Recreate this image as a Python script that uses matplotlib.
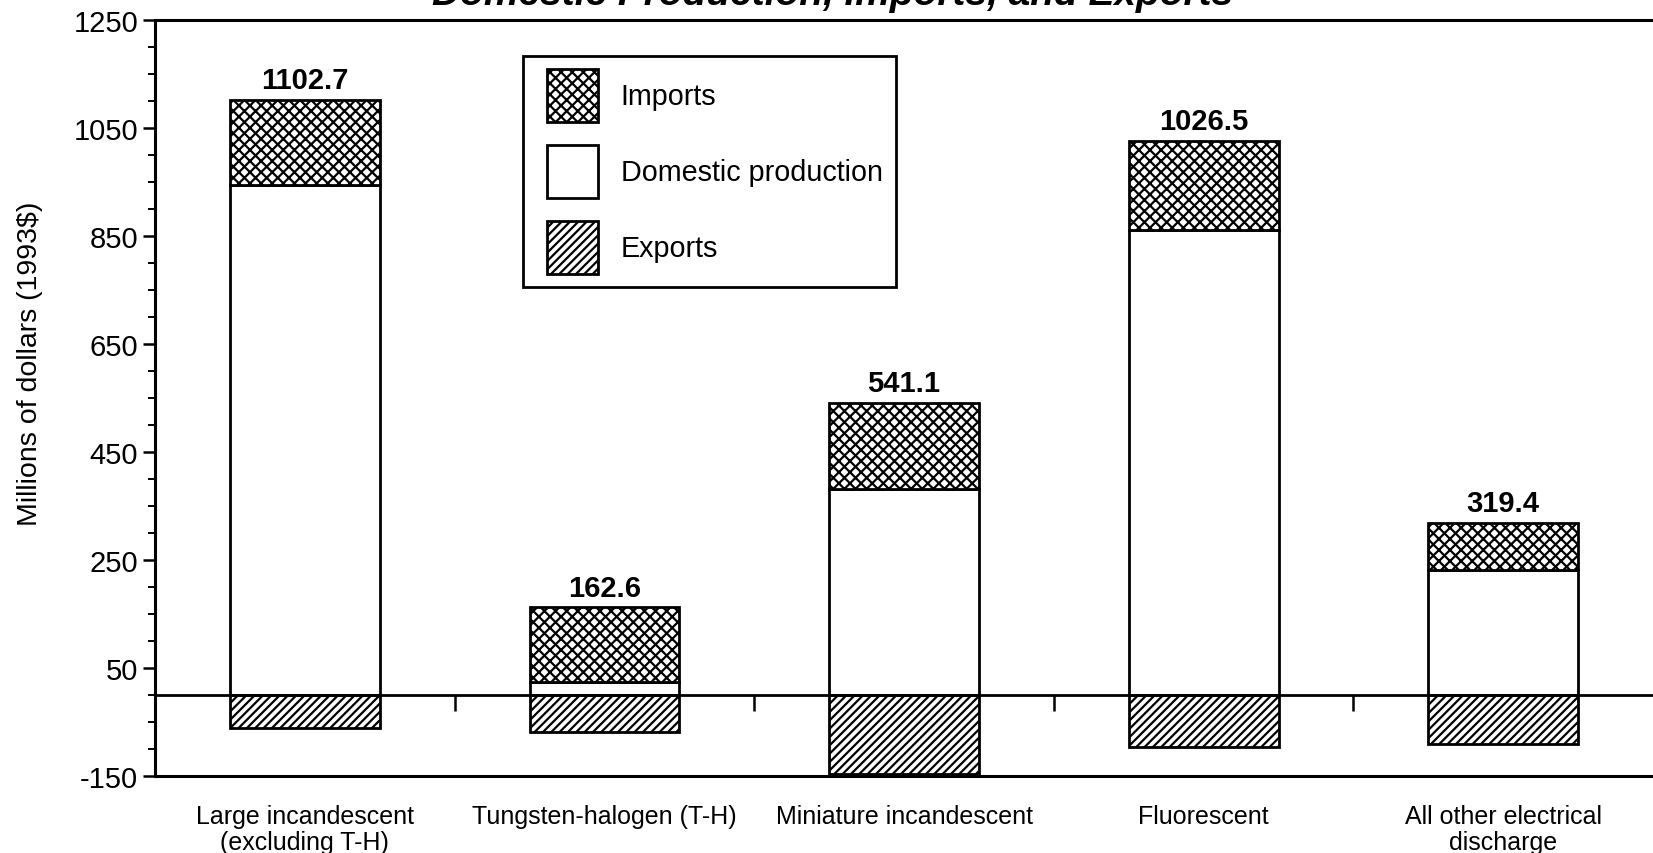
import numpy as np
import matplotlib.pyplot as plt
from matplotlib.patches import Patch
from matplotlib.legend_handler import HandlerPatch
from matplotlib.ticker import MultipleLocator

# Values (millions of 1993 dollars)
categories = ['Large incandescent\n(excluding T-H)', 'Tungsten-halogen (T-H)',
              'Miniature incandescent', 'Fluorescent', 'All other electrical\ndischarge']
domestic = [944.0, 25.0, 382.0, 862.0, 231.0]
imports = [158.7, 137.6, 159.1, 164.5, 88.4]
exports = [-61.0, -68.0, -146.0, -96.0, -91.0]
total_labels = ['1102.7', '162.6', '541.1', '1026.5', '319.4']

plt.rcParams['font.family'] = ['Liberation Sans', 'DejaVu Sans']
plt.rcParams['hatch.linewidth'] = 1.6
plt.rcParams['axes.unicode_minus'] = False

fig = plt.figure(figsize=(16.53, 8.54), dpi=100)
ax = fig.add_axes([155 / 1653, 1 - 777 / 854, 1 - 155 / 1653, (777 - 21) / 854])

x = np.arange(len(categories))
w = 0.5
ax.bar(x, domestic, w, color='white', edgecolor='black', linewidth=2, zorder=3)
ax.bar(x, imports, w, bottom=domestic, color='white', edgecolor='black',
       hatch='xxx', linewidth=2, zorder=3)
ax.bar(x, exports, w, color='white', edgecolor='black', hatch='////',
       linewidth=2, zorder=3)

for xi, d, im, lab in zip(x, domestic, imports, total_labels):
    ax.annotate(lab, (xi, d + im), xytext=(0, 4), textcoords='offset points',
                ha='center', va='bottom', fontsize=21, fontweight='bold')

# zero line with category separators
ax.axhline(0, color='black', linewidth=2, zorder=4)
ax.vlines(x[:-1] + 0.5, -30, 0, color='black', linewidth=1.8, zorder=4)

ax.set_xlim(-0.5, len(categories) - 0.5)
ax.set_ylim(-150, 1250)
ax.yaxis.set_minor_locator(MultipleLocator(50))
ax.set_yticks(np.arange(-150, 1251, 200))
ax.tick_params(axis='y', which='major', length=9, width=1.8, labelsize=21, pad=3)
ax.tick_params(axis='y', which='minor', length=5, width=1.4)

ax.set_xticks(x)
ax.set_xticklabels(categories, fontsize=18, linespacing=1.1)
ax.tick_params(axis='x', length=0, pad=20)

ax.set_ylabel('Millions of dollars (1993$)', fontsize=20.5)
ax.yaxis.set_label_coords(-0.075, 0.546)

for s in ['left', 'top', 'bottom']:
    ax.spines[s].set_linewidth(2.2)
ax.spines['right'].set_visible(False)

handles = [Patch(facecolor='white', edgecolor='black', hatch='xxx', linewidth=2),
           Patch(facecolor='white', edgecolor='black', linewidth=2),
           Patch(facecolor='white', edgecolor='black', hatch='////', linewidth=2)]
leg = ax.legend(handles, ['Imports', 'Domestic production', 'Exports'],
                loc='upper left', bbox_to_anchor=(0.2457, 0.952), borderaxespad=0,
                fontsize=20.7, handlelength=2.15, handleheight=2.45, labelspacing=0.8,
                handletextpad=0.8, borderpad=0.45, fancybox=False, framealpha=1,
                handler_map={Patch: HandlerPatch(xpad=0.4)})
leg.get_frame().set_edgecolor('black')
leg.get_frame().set_linewidth(2)
leg.set_zorder(5)

fig.text(833 / 1653, 1 - 5 / 854, 'Domestic Production, Imports, and Exports',
         ha='center', va='baseline', fontsize=28, fontweight='bold', style='italic')

fig.savefig('out.png', dpi=100, facecolor='white')
